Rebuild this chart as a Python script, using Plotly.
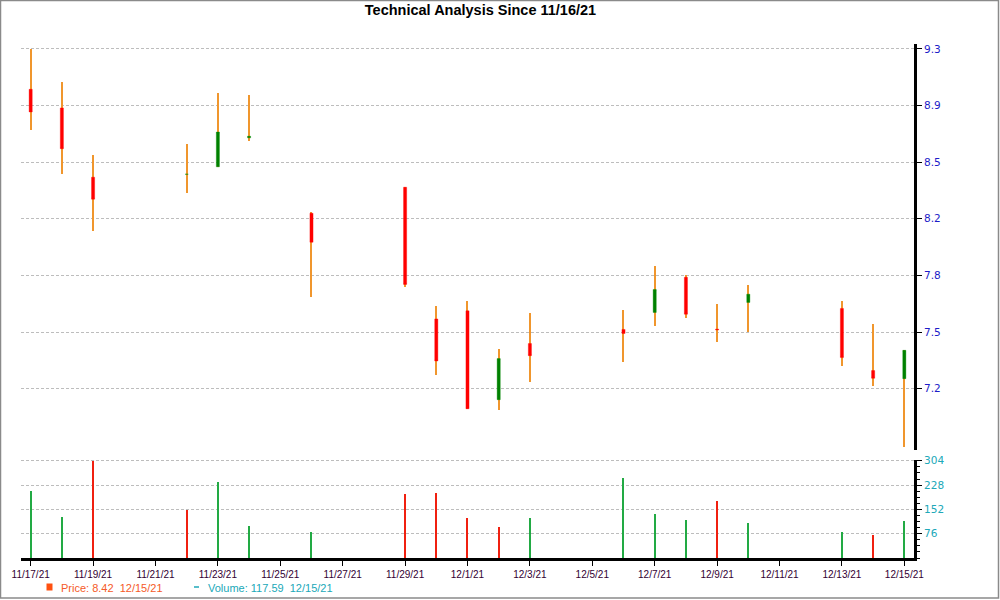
import pandas as pd
import plotly.graph_objects as go

# ---------------- data ----------------
dates = ["2021-11-17", "2021-11-18", "2021-11-19", "2021-11-22", "2021-11-23",
         "2021-11-24", "2021-11-26", "2021-11-29", "2021-11-30", "2021-12-01",
         "2021-12-02", "2021-12-03", "2021-12-06", "2021-12-07", "2021-12-08",
         "2021-12-09", "2021-12-10", "2021-12-13", "2021-12-14", "2021-12-15"]
open_ = [9.000, 8.885, 8.457, 8.475, 8.521, 8.700, 8.234, 8.395, 7.581, 7.631,
         7.082, 7.429, 7.516, 7.621, 7.838, 7.518, 7.683, 7.646, 7.262, 7.212]
high = [9.250, 9.043, 8.595, 8.664, 8.980, 8.965, 8.240, 8.395, 7.660, 7.691,
        7.393, 7.615, 7.635, 7.908, 7.852, 7.672, 7.790, 7.691, 7.548, 7.387]
low = [8.746, 8.478, 8.126, 8.362, 8.521, 8.678, 7.718, 7.776, 7.234, 7.026,
       7.016, 7.191, 7.315, 7.538, 7.587, 7.439, 7.500, 7.288, 7.164, 6.792]
close = [8.860, 8.633, 8.321, 8.475, 8.736, 8.710, 8.055, 7.794, 7.321, 7.026,
         7.336, 7.354, 7.491, 7.763, 7.610, 7.514, 7.734, 7.342, 7.214, 7.387]
volume = [210, 130, 304, 153, 238, 102, 83, 201, 204, 126,
          98, 126, 253, 139, 120, 179, 111, 83, 74, 118]
volume_dir = ["up", "up", "down", "down", "up", "up", "up", "down", "down", "down",
              "down", "up", "up", "up", "up", "down", "up", "up", "down", "up"]

title_text = "Technical Analysis Since 11/16/21"
price_tick_values = [7.15, 7.50, 7.85, 8.20, 8.55, 8.90, 9.25]
price_tick_labels = ["7.2", "7.5", "7.8", "8.2", "8.5", "8.9", "9.3"]
volume_tick_values = [76, 152, 228, 304]
volume_tick_labels = ["76", "152", "228", "304"]
legend_price_text = "Price: 8.42\u00a0\u00a012/15/21"
legend_volume_text = "Volume: 117.59\u00a0\u00a012/15/21"

# ---------------- layout geometry ----------------
W, H = 1000, 600
L, R, T, B = 21, 86, 44, 42
PW, PH = W - L - R, H - T - B


def px(x):
    return (x - L) / PW


def py(y):
    return (H - B - y) / PH


WICK = "#F0962D"
x = pd.to_datetime(dates)
wick_len = [h - l for h, l in zip(high, low)]
body_hi = [max(o, c) for o, c in zip(open_, close)]
body_lo = [min(o, c) for o, c in zip(open_, close)]
vol_colors = ["#22AA44" if d == "up" else "#F02010" for d in volume_dir]
day = pd.Timedelta(days=1)

fig = go.Figure()
# wicks (high-low range), drawn beneath the candle bodies
fig.add_trace(go.Bar(
    x=x, y=wick_len, base=low, width=3.0e6,
    marker=dict(color=WICK, line=dict(width=0)),
    xaxis="x", yaxis="y", hoverinfo="skip", showlegend=False))
# candle bodies
fig.add_trace(go.Candlestick(
    x=x, open=open_, high=body_hi, low=body_lo, close=close, whiskerwidth=0,
    increasing=dict(line=dict(color="rgba(0,140,0,0.35)", width=1), fillcolor="#008000"),
    decreasing=dict(line=dict(color="rgba(255,0,0,0.35)", width=1), fillcolor="#FF0000"),
    xaxis="x", yaxis="y", showlegend=False))
# volume
fig.add_trace(go.Bar(
    x=x, y=volume, width=3.6e6, marker=dict(color=vol_colors, line=dict(width=0)),
    xaxis="x", yaxis="y2", showlegend=False))

grid = dict(showgrid=True, gridcolor="#BDBDBD", griddash="3px,2px", gridwidth=1)

fig.update_layout(
    width=W, height=H,
    margin=dict(l=L, r=R, t=T, b=B),
    paper_bgcolor="white", plot_bgcolor="white",
    showlegend=False,
    boxgap=0.9, boxgroupgap=0,
    barmode="overlay", bargap=0,
    title=dict(text=title_text, x=480.5 / W, xref="container", xanchor="center",
               y=1 - 10 / H, yref="container", yanchor="middle",
               font=dict(family="Liberation Sans, Arial", size=14.5, color="#000000", weight="bold")),
    xaxis=dict(
        type="date", domain=[0, 1], anchor="y2",
        range=[x[0] - 0.31 * day, x[-1] + 0.31 * day],
        showline=True, linecolor="black", linewidth=3,
        ticks="outside", ticklen=5, tickwidth=1, tickcolor="black",
        tick0="2021-11-17", dtick=2 * 86400000, tickformat="%-m/%-d/%y",
        tickfont=dict(family="Liberation Sans, Arial", size=10, color="#330033"),
        showgrid=False, zeroline=False, rangeslider=dict(visible=False)),
    yaxis=dict(
        domain=[py(450), 1], anchor="x", side="right",
        range=[6.771, 9.28],
        showline=True, linecolor="black", linewidth=3,
        ticks="outside", ticklen=5, tickwidth=1, tickcolor="black",
        tickmode="array", tickvals=price_tick_values, ticktext=price_tick_labels,
        tickfont=dict(family="DejaVu Sans", size=10.5, color="#1C1CC8"),
        zeroline=False, **grid),
    yaxis2=dict(
        domain=[0, py(459.5)], anchor="x", side="right",
        range=[0, 308],
        showline=True, linecolor="black", linewidth=3,
        ticks="outside", ticklen=5, tickwidth=1, tickcolor="black",
        tickmode="array", tickvals=volume_tick_values, ticktext=volume_tick_labels,
        minor=dict(ticks="outside", ticklen=3, tickcolor="black", tickwidth=1,
                   tick0=0, dtick=19, showgrid=False),
        tickfont=dict(family="DejaVu Sans", size=10.5, color="#20A8B8"),
        zeroline=False, **grid),
)

# outer frame
fig.add_shape(type="rect", xref="paper", yref="paper",
              x0=px(0.5), x1=px(998.5), y0=py(598), y1=py(0.5),
              line=dict(color="#8A8A8A", width=1.5), fillcolor="rgba(0,0,0,0)", layer="above")

# legend items
fig.add_shape(type="rect", xref="paper", yref="paper",
              x0=px(46.5), x1=px(52.5), y0=py(590.5), y1=py(583.5),
              line=dict(width=0), fillcolor="#FF5010")
fig.add_shape(type="line", xref="paper", yref="paper",
              x0=px(194), x1=px(199), y0=py(587), y1=py(587),
              line=dict(color="#20A8B8", width=1.5))
fig.add_annotation(text=legend_price_text, xref="paper", yref="paper",
                   x=px(59), y=py(587.5), xanchor="left", yanchor="middle", showarrow=False,
                   font=dict(family="Liberation Sans, Arial", size=11, color="#F55A28"))
fig.add_annotation(text=legend_volume_text, xref="paper", yref="paper",
                   x=px(205.5), y=py(587.5), xanchor="left", yanchor="middle", showarrow=False,
                   font=dict(family="Liberation Sans, Arial", size=11, color="#20A8B8"))

fig.write_html("out.html")
